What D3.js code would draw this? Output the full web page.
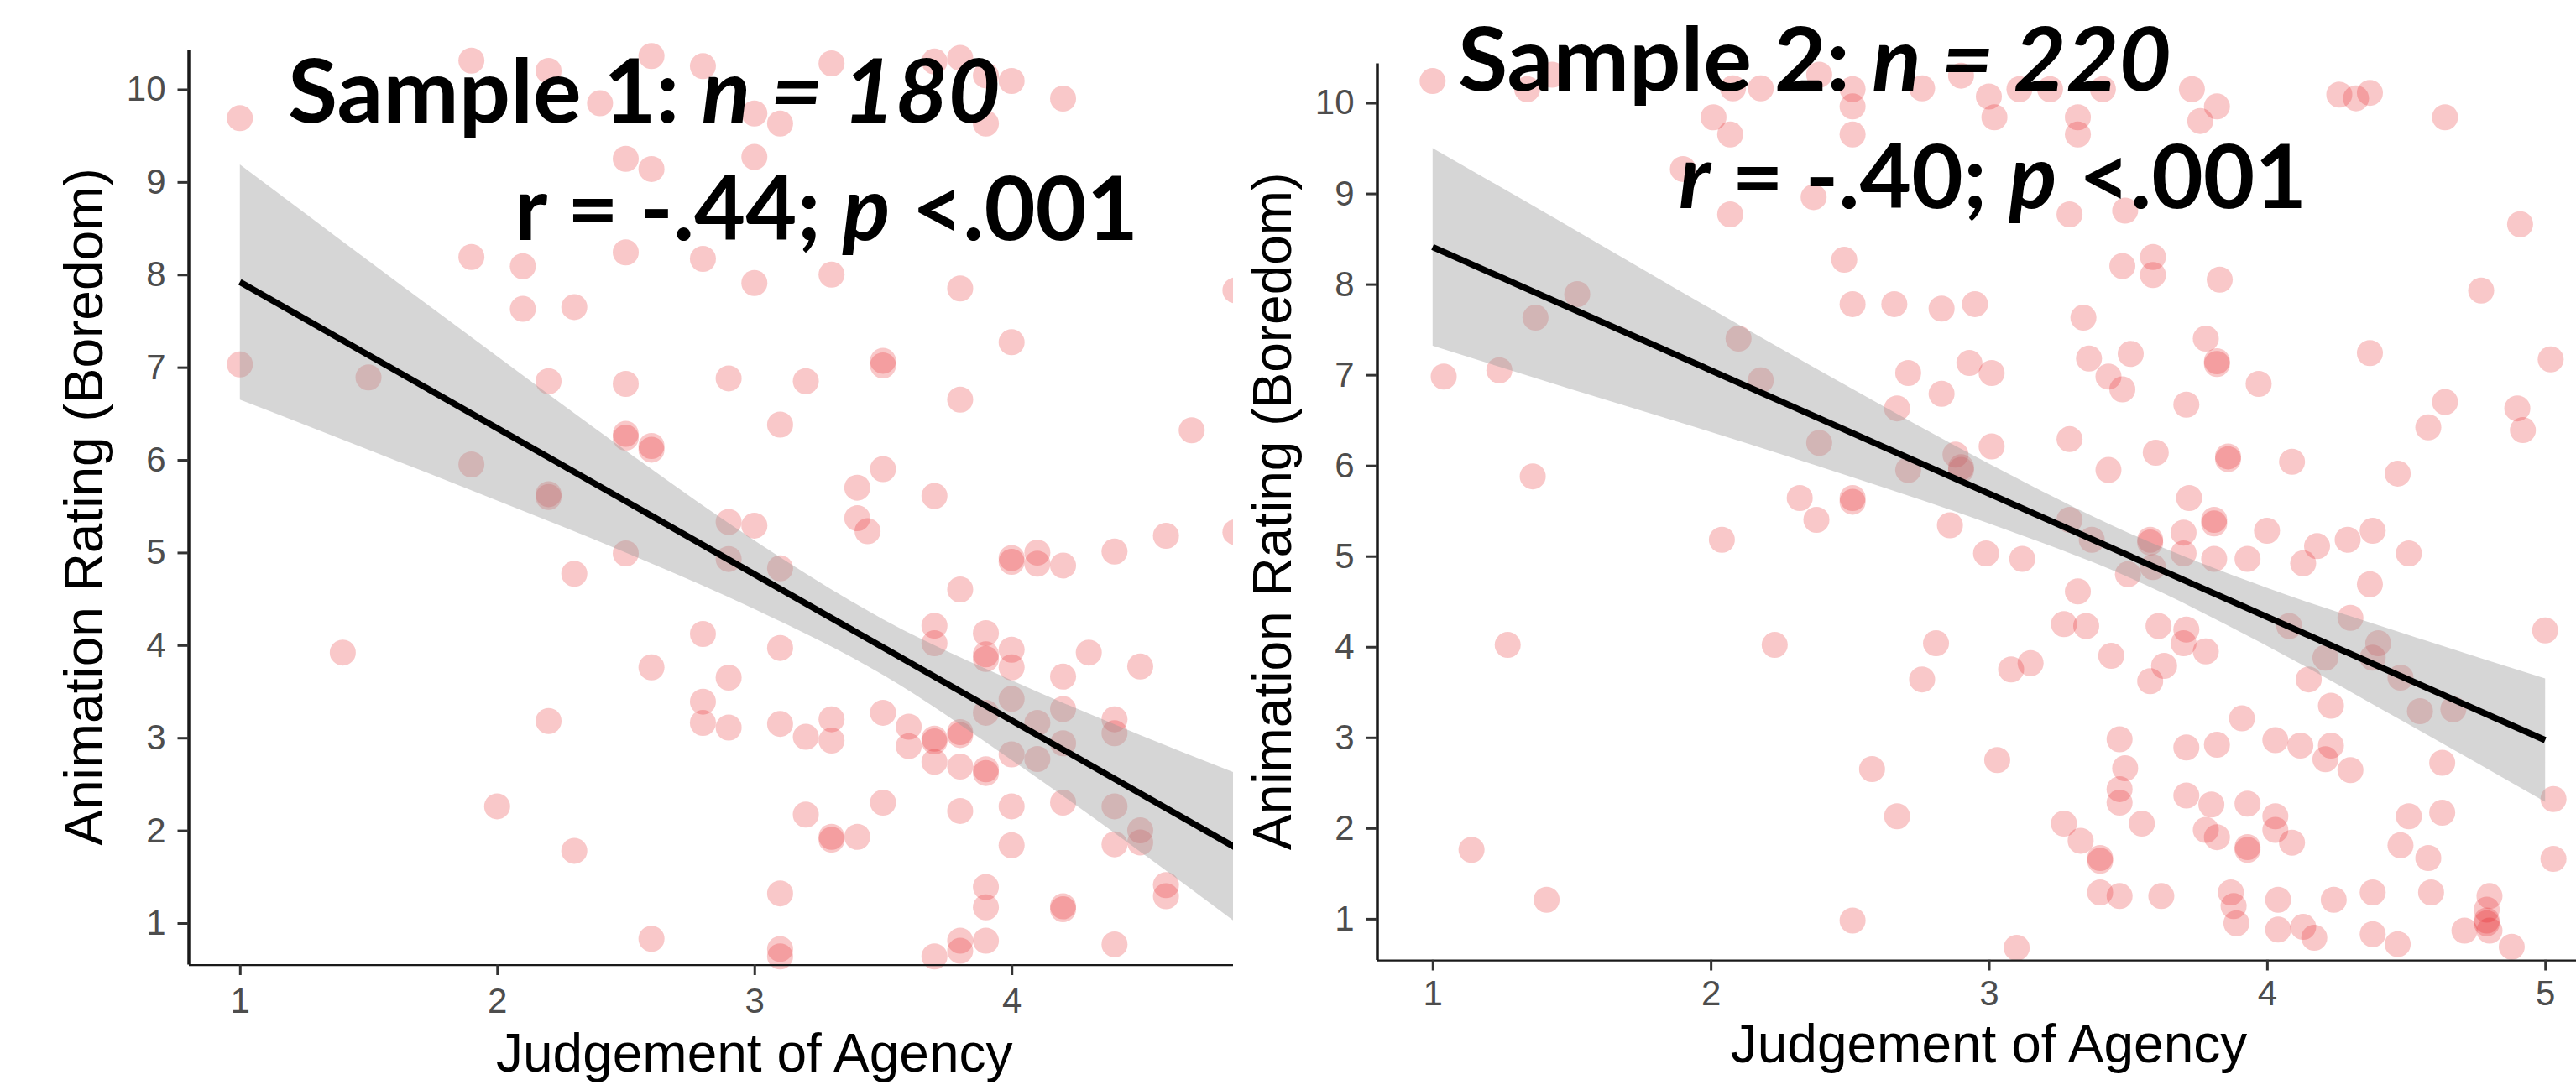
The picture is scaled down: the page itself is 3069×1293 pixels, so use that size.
<!DOCTYPE html>
<html>
<head>
<meta charset="utf-8">
<script src="https://cdn.jsdelivr.net/npm/d3@7"></script>
<style>
  body { margin: 0; background: #fff; }
  svg { display: block; }
  text { white-space: pre; }
</style>
</head>
<body>
<svg></svg>
<script>
// two scatter plots: judgement of agency vs animation rating (boredom)

var svgWidth = 3069, svgHeight = 1293;

// ---- sample 1 (n = 180) ----
var agency1 = [1.00, 1.00, 1.40, 1.50, 1.90, 1.90, 1.90, 2.00, 2.10, 2.10, 2.20, 2.20, 2.20, 2.20, 2.20,
  2.30, 2.30, 2.30, 2.40, 2.50, 2.50, 2.50, 2.50, 2.50, 2.50, 2.60, 2.60, 2.60, 2.60, 2.60, 2.60,
  2.80, 2.80, 2.80, 2.80, 2.80, 2.90, 2.90, 2.90, 2.90, 2.90, 3.00, 3.00, 3.00, 3.00,
  3.10, 3.10, 3.10, 3.10, 3.10, 3.10, 3.10, 3.10, 3.20, 3.20, 3.20, 3.30, 3.30, 3.30, 3.30, 3.30, 3.30,
  3.40, 3.40, 3.40, 3.44, 3.50, 3.50, 3.50, 3.50, 3.50, 3.60, 3.60,
  3.70, 3.70, 3.70, 3.70, 3.70, 3.70, 3.70, 3.70, 3.80, 3.80, 3.80, 3.80, 3.80, 3.80, 3.80, 3.80, 3.80, 3.80,
  3.90, 3.90, 3.90, 3.90, 3.90, 3.90, 3.90, 3.90, 3.90, 3.90, 3.90,
  4.00, 4.00, 4.00, 4.00, 4.00, 4.00, 4.00, 4.00, 4.00, 4.00, 4.10, 4.10, 4.10, 4.10,
  4.20, 4.20, 4.20, 4.20, 4.20, 4.20, 4.20, 4.20, 4.30, 4.40, 4.40, 4.40, 4.40, 4.40, 4.40,
  4.50, 4.50, 4.50, 4.60, 4.60, 4.60, 4.70, 4.87, 4.87];
var boredom1 = [9.69, 7.03, 3.92, 6.89, 10.31, 8.19, 5.95, 2.26, 8.09, 7.63, 10.20, 6.85, 5.63, 5.60, 3.18,
  7.65, 4.77, 1.78, 9.85, 9.25, 8.24, 6.82, 6.28, 6.24, 4.99, 10.36, 9.14, 6.15, 6.11, 3.76, 0.83,
  10.25, 8.17, 4.12, 3.39, 3.16, 6.88, 5.33, 4.93, 3.65, 3.11, 9.74, 9.27, 7.91, 5.29,
  9.63, 6.38, 4.83, 3.97, 3.15, 1.32, 0.72, 0.64, 6.85, 3.01, 2.17, 10.28, 8.00, 3.20, 2.97, 1.93, 1.90,
  5.70, 5.37, 1.93, 5.23, 7.07, 7.02, 5.90, 3.27, 2.30, 3.12, 2.91,
  10.30, 5.61, 4.21, 4.02, 2.99, 2.96, 2.74, 0.64, 10.34, 7.85, 6.65, 4.60, 3.06, 3.03, 2.69, 2.21, 0.81, 0.70,
  10.15, 9.63, 4.13, 3.90, 3.85, 3.27, 2.66, 2.62, 1.39, 1.17, 0.81,
  10.09, 7.27, 4.94, 4.90, 3.95, 3.76, 3.42, 2.82, 2.26, 1.84, 5.00, 4.88, 3.16, 2.77,
  9.90, 4.86, 3.66, 3.31, 2.94, 2.30, 1.18, 1.15, 3.92, 5.01, 3.20, 3.05, 2.26, 1.85, 0.77,
  3.77, 2.00, 1.87, 5.18, 1.41, 1.29, 6.32, 7.83, 5.22];

// ---- sample 2 (n = 220) ----
var agency2 = [1.00, 1.04, 1.14, 1.24, 1.27, 1.34, 1.36, 1.37, 1.41, 1.43, 1.52, 1.90, 2.01, 2.04, 2.07, 2.07,
  2.08, 2.10, 2.18, 2.18, 2.23, 2.32, 2.37, 2.38, 2.39, 2.39, 2.48, 2.51, 2.51, 2.51, 2.51, 2.51, 2.51, 2.51,
  2.58, 2.66, 2.67, 2.67, 2.71, 2.71, 2.76, 2.76, 2.81, 2.83, 2.83, 2.86, 2.88, 2.90, 2.90, 2.90, 2.93, 2.95,
  2.99, 3.00, 3.01, 3.01, 3.02, 3.03, 3.08, 3.10, 3.11, 3.12, 3.15, 3.22, 3.27, 3.27, 3.29, 3.29, 3.29,
  3.32, 3.32, 3.32, 3.33, 3.34, 3.35, 3.36, 3.37, 3.40, 3.40, 3.40, 3.41, 3.43, 3.43, 3.44, 3.47, 3.47, 3.47, 3.47,
  3.48, 3.48, 3.49, 3.49, 3.50, 3.51, 3.55, 3.58, 3.58, 3.58, 3.59, 3.59, 3.59, 3.60, 3.61, 3.62, 3.63,
  3.70, 3.70, 3.70, 3.71, 3.71, 3.71, 3.71, 3.72, 3.73, 3.76, 3.78, 3.78, 3.78, 3.80, 3.81, 3.81, 3.81,
  3.82, 3.82, 3.82, 3.82, 3.82, 3.83, 3.86, 3.86, 3.87, 3.88, 3.89, 3.91, 3.93, 3.93, 3.93, 3.93, 3.97,
  4.00, 4.03, 4.03, 4.03, 4.04, 4.04, 4.08, 4.09, 4.09, 4.12, 4.13, 4.13, 4.15, 4.17, 4.18, 4.21, 4.21,
  4.23, 4.23, 4.24, 4.26, 4.29, 4.30, 4.30, 4.32, 4.37, 4.37, 4.37, 4.38, 4.38, 4.38, 4.38, 4.40,
  4.47, 4.47, 4.48, 4.48, 4.51, 4.51, 4.55, 4.58, 4.58, 4.59, 4.63, 4.63, 4.64, 4.64, 4.67, 4.71,
  4.77, 4.79, 4.79, 4.79, 4.80, 4.80, 4.88, 4.90, 4.91, 4.92, 5.00, 5.02, 5.03, 5.03];
var boredom2 = [10.24, 6.98, 1.76, 7.05, 4.02, 10.15, 5.88, 7.63, 1.21, 10.31, 7.89, 9.27, 9.84, 5.18, 9.65, 8.77,
  10.16, 7.40, 10.16, 6.94, 4.02, 5.64, 8.96, 5.40, 10.31, 6.25, 8.27, 10.15, 9.96, 9.65, 7.78, 5.64, 5.60, 0.98,
  2.65, 7.78, 6.63, 2.13, 7.02, 5.95, 10.16, 3.64, 4.04, 7.73, 6.79, 5.34, 6.12, 10.30, 5.98, 5.95, 7.13, 7.78,
  5.03, 10.07, 7.02, 6.21, 9.84, 2.75, 3.75, 0.68, 10.15, 4.97, 3.82, 10.15, 4.25, 2.05, 8.77, 6.29, 5.40,
  9.84, 9.65, 4.61, 1.86, 7.63, 4.23, 7.18, 5.18, 1.67, 1.64, 1.29, 10.15, 6.98, 5.95, 3.90, 2.98, 2.43, 2.28, 1.25,
  8.20, 6.84, 8.81, 2.66, 4.80, 7.23, 2.05, 5.18, 5.15, 3.62, 8.30, 8.10, 4.88, 6.14, 4.23, 1.25, 3.79,
  5.26, 5.03, 4.04, 6.67, 4.19, 2.89, 2.36, 5.64, 10.15, 9.80, 7.40, 3.95, 1.98, 2.26, 5.40, 5.36, 4.97,
  9.96, 7.15, 7.12, 2.92, 1.90, 8.05, 6.10, 6.07, 1.29, 1.14, 0.95, 3.21, 4.97, 2.27, 1.79, 1.76, 6.90,
  5.28, 2.97, 2.13, 1.98, 1.21, 0.88, 4.23, 6.04, 1.84, 2.91, 4.92, 0.91, 3.64, 0.79, 5.11, 3.88, 2.76,
  3.35, 2.91, 1.21, 10.09, 5.18, 4.32, 2.64, 10.05, 10.11, 7.24, 4.69, 5.28, 3.88, 1.29, 0.83, 4.04,
  5.91, 0.72, 3.66, 1.81, 5.03, 2.13, 3.29, 6.42, 1.67, 1.29, 2.72, 2.17, 9.84, 6.70, 3.31, 0.87,
  7.93, 1.10, 0.98, 0.95, 1.25, 0.87, 0.69, 6.63, 8.66, 6.39, 4.18, 7.17, 2.32, 1.66];

// fitted lines and confidence bands
var fitX = [1, 5];
var fit1 = [7.92, 1.61];
var fit2 = [8.41, 2.97];
var bandX = [1, 1.5, 2, 2.5, 3, 3.5, 4, 4.5, 5];
var bandLow1 = [6.65, 6.11, 5.56, 5.00, 4.39, 3.68, 2.76, 1.77, 0.74];
var bandHigh1 = [9.19, 8.15, 7.12, 6.10, 5.13, 4.28, 3.62, 3.03, 2.48];
var bandLow2 = [7.32, 6.84, 6.37, 5.88, 5.36, 4.77, 4.01, 3.16, 2.29];
var bandHigh2 = [9.50, 8.62, 7.73, 6.86, 6.02, 5.26, 4.65, 4.14, 3.65];

// ticks and labels
var xTicks1 = [1, 2, 3, 4];
var xTicks2 = [1, 2, 3, 4, 5];
var yTicks = [1, 2, 3, 4, 5, 6, 7, 8, 9, 10];
var xTitle = "Judgement of Agency";
var yTitle = "Animation Rating (Boredom)";
var head1 = [["Sample 1: ", false], ["n = 180", true]];
var stat1 = [["r = -.44; ", false], ["p", true], [" <.001", false]];
var head2 = [["Sample 2: ", false], ["n = 220", true]];
var stat2 = [["r", true], [" = -.40; ", false], ["p", true], [" <.001", false]];

var pointColor = "#e41a1c";
var axisFont = "'Liberation Sans', Arial, sans-serif";
var titleFont = "Lato, 'Open Sans', sans-serif";

var svg = d3.select("svg")
    .attr("width", svgWidth)
    .attr("height", svgHeight);

var defs = svg.append("defs");

function drawPanel(p) {
    var xScale = d3.scaleLinear().domain(p.xDomain).range([p.left, p.right]);
    var yScale = d3.scaleLinear().domain(p.yDomain).range([p.bottom, p.top]);

    var clipId = "clip" + p.id;
    defs.append("clipPath").attr("id", clipId)
        .append("rect")
        .attr("x", 0).attr("y", 0)
        .attr("width", p.clipRight).attr("height", svgHeight);

    var plot = svg.append("g").attr("clip-path", "url(#" + clipId + ")");

    // points
    plot.append("g").selectAll("circle")
        .data(p.xs.map(function(v, i) { return [v, p.ys[i]]; }))
        .join("circle")
        .attr("cx", function(d) { return xScale(d[0]); })
        .attr("cy", function(d) { return yScale(d[1]); })
        .attr("r", 15.5)
        .attr("fill", pointColor)
        .attr("fill-opacity", 0.24);

    // confidence band
    var area = d3.area()
        .x(function(d, i) { return xScale(bandX[i]); })
        .y0(function(d, i) { return yScale(p.low[i]); })
        .y1(function(d, i) { return yScale(p.high[i]); })
        .curve(d3.curveMonotoneX);
    plot.append("path")
        .attr("d", area(bandX))
        .attr("fill", "#999999")
        .attr("fill-opacity", 0.4);

    // fitted line
    var line = d3.line()
        .x(function(d, i) { return xScale(fitX[i]); })
        .y(function(d, i) { return yScale(p.fit[i]); });
    plot.append("path")
        .attr("d", line(fitX))
        .attr("fill", "none")
        .attr("stroke", "#000")
        .attr("stroke-width", 7.5);

    // axes
    var gx = svg.append("g")
        .attr("clip-path", "url(#" + clipId + ")")
        .attr("transform", "translate(0," + p.bottom + ")")
        .call(d3.axisBottom(xScale).tickValues(p.xTicks).tickFormat(d3.format("d"))
            .tickSize(13).tickSizeOuter(0).tickPadding(p.xPad));
    var gy = svg.append("g")
        .attr("transform", "translate(" + p.left + ",0)")
        .call(d3.axisLeft(yScale).tickValues(yTicks).tickFormat(d3.format("d"))
            .tickSize(13).tickSizeOuter(0).tickPadding(14));

    [gx, gy].forEach(function(g) {
        g.select(".domain").attr("stroke", "#1a1a1a").attr("stroke-width", 3.5);
        g.selectAll(".tick line").attr("stroke", "#333").attr("stroke-width", 3);
        g.selectAll(".tick text")
            .attr("fill", "#4d4d4d")
            .attr("font-size", 42)
            .attr("font-family", axisFont);
    });

    // axis titles
    svg.append("text")
        .attr("x", (p.left + p.right) / 2)
        .attr("y", p.xTitleY)
        .attr("text-anchor", "middle")
        .attr("font-family", axisFont)
        .attr("font-size", 64)
        .attr("fill", "#000")
        .text(xTitle);
    svg.append("text")
        .attr("transform", "translate(" + p.yTitleX + "," + (p.top + p.bottom) / 2 + ") rotate(-90)")
        .attr("text-anchor", "middle")
        .attr("font-family", axisFont)
        .attr("font-size", 64)
        .attr("fill", "#000")
        .text(yTitle);

    // annotation
    drawTitle(p.head, p.headPos);
    drawTitle(p.stat, p.statPos);
}

function drawTitle(parts, pos) {
    var t = svg.append("text")
        .attr("x", pos[0])
        .attr("y", pos[1])
        .attr("font-family", titleFont)
        .attr("font-weight", 700)
        .attr("font-size", 106)
        .attr("fill", "#000")
        .attr("textLength", pos[2])
        .attr("lengthAdjust", "spacingAndGlyphs");
    parts.forEach(function(part) {
        t.append("tspan")
            .attr("font-style", part[1] ? "italic" : "normal")
            .text(part[0]);
    });
}

drawPanel({
    id: 1, xs: agency1, ys: boredom1, fit: fit1, low: bandLow1, high: bandHigh1, xTicks: xTicks1,
    left: 224.5, right: 1573, top: 59, bottom: 1149, clipRight: 1469,
    xDomain: [0.8, 5.2], yDomain: [0.556, 10.43], xPad: 15,
    xTitleY: 1277, yTitleX: 122,
    head: head1, headPos: [343, 146, 849],
    stat: stat1, statPos: [613, 286, 743]
});

drawPanel({
    id: 2, xs: agency2, ys: boredom2, fit: fit2, low: bandLow2, high: bandHigh2, xTicks: xTicks2,
    left: 1640.5, right: 3098.5, top: 75, bottom: 1143.5, clipRight: svgWidth,
    xDomain: [0.8, 5.2], yDomain: [0.55, 10.44], xPad: 12,
    xTitleY: 1266, yTitleX: 1538,
    head: head2, headPos: [1737, 108, 850],
    stat: stat2, statPos: [2000, 248, 748]
});
</script>
</body>
</html>
